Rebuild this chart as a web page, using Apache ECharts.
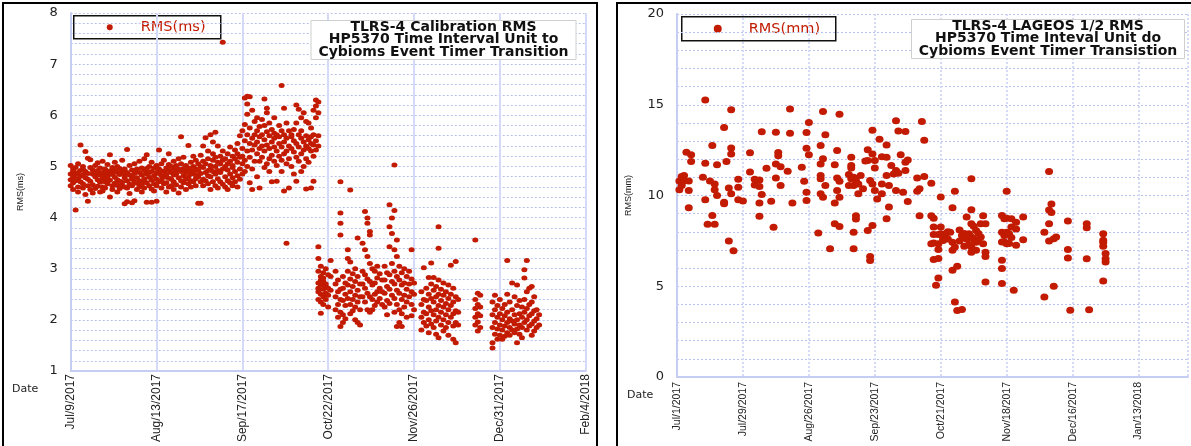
<!DOCTYPE html>
<html><head><meta charset="utf-8">
<script src="https://cdn.jsdelivr.net/npm/echarts@6/dist/echarts.min.js"></script>
<style>html,body{margin:0;padding:0;background:#fff}#c{width:1191px;height:446px}</style>
</head><body><div id="c"></div>
<script>
// ---------- data (each entry: [days since axis start, RMS values...]) ----------
const MONTHS = ['Jan','Feb','Mar','Apr','May','Jun','Jul','Aug','Sep','Oct','Nov','Dec'];
const calibStart = Date.UTC(2017, 6, 9);   // Jul/9/2017
const lageosStart = Date.UTC(2017, 6, 1);  // Jul/1/2017
const calibTickDays = 35, calibMaxDay = 210;
const lageosTickDays = 28, lageosMaxDay = 217;
const calibName = 'RMS(ms)', lageosName = 'RMS(mm)';
const calibTitle = 'TLRS-4 Calibration RMS\nHP5370 Time Interval Unit to\nCybioms Event Timer Transition';
const lageosTitle = 'TLRS-4 LAGEOS 1/2 RMS\nHP5370 Time Inteval Unit do\nCybioms Event Timer Transistion';

const calibJulAug = [
 [0,4.85,4.62,5.02,4.74],[1,4.95,4.55,4.80,4.68,4.90],[2,4.15,4.72,4.98,4.84],[3,4.60,4.88,5.05,4.76,4.50],
 [4,5.42,4.70,4.92,4.81],[5,4.58,4.83,5.00,4.66,4.95],[6,4.45,4.78,5.29,4.90],[7,4.32,4.86,5.16,4.62,4.75],
 [8,4.71,4.98,4.55,5.13],[9,4.64,4.85,4.93,4.48],[10,4.80,4.57,5.02],[11,4.74,4.92,4.61,4.86,5.07],
 [12,4.50,4.83,4.69,4.97],[13,4.88,4.60,4.76,5.10,4.52],[14,4.70,4.95,4.82,4.58],[15,4.66,4.89,5.04,4.77],
 [16,5.23,4.40,4.73,4.91,4.84],[17,4.62,4.86,4.98,4.55],[18,4.79,4.67,5.08,4.92],[19,4.50,4.74,4.88,5.00,4.63],
 [20,4.84,4.57,4.96,4.71],[21,4.69,4.90,4.62,5.12],[22,4.27,4.78,4.95,4.60,4.85],[23,5.33,4.31,4.72,4.88,4.58],
 [24,4.65,4.83,5.02,4.47],[25,4.29,4.75,4.93,4.62,4.80],[26,4.33,4.69,4.86,5.05],[27,4.55,4.78,4.95,4.67,4.90],
 [28,4.72,4.60,4.88,5.10],[29,4.50,4.83,4.97,4.64],[30,4.76,4.92,4.58,5.15,4.70],[31,5.23,4.68,4.85,4.30,4.96],
 [32,4.62,4.79,5.00,4.88],[33,4.30,4.73,4.90,4.56,5.08],[34,4.82,4.66,4.97,4.52]
];
const calibAugSep = [
 [35,4.32,4.75,4.88,5.02,4.62],[36,5.32,4.70,4.86,4.95],[37,4.58,4.82,5.05,4.73,4.91],[38,4.66,4.90,4.79,5.12],
 [39,4.50,4.84,4.97,4.68],[40,5.25,4.77,4.92,4.60,5.04],[41,4.62,4.88,4.75,5.00],[42,4.70,4.96,4.55,4.83,5.10],
 [43,4.85,4.64,5.02,4.92],[44,4.48,4.78,4.95,5.15],[45,5.58,4.72,4.90,5.05,4.60],[46,4.82,4.96,4.68,5.18],
 [47,4.55,4.88,5.02,4.75,4.95],[48,5.41,4.80,4.97,4.66],[49,4.72,4.92,5.08,4.60,4.85],[50,4.88,5.00,4.70,5.20],
 [51,4.62,4.95,4.83,5.12,4.76],[52,4.28,4.80,5.05,4.92],[53,4.28,4.86,5.00,4.70,5.22],[54,5.40,4.75,4.98,5.10,4.62],
 [55,5.56,4.88,5.05,4.72],[56,4.66,4.92,5.15,5.30,4.82],[57,5.62,4.80,5.02,4.95,4.55],[58,5.48,4.70,4.90,5.12,5.25],
 [59,5.67,4.62,5.00,4.85,5.18],[60,5.40,4.58,4.92,5.08,4.76],[61,4.88,5.05,4.70,5.20],[62,7.43,4.95,4.65,5.12,5.30],
 [63,4.80,5.00,5.15,4.60],[64,4.72,4.93,5.25,5.05,4.55],[65,4.85,5.10,5.38,4.68],[66,4.62,4.98,5.20,5.02,4.78],
 [67,4.90,5.15,4.70,5.32],[68,5.08,4.82,5.25,4.60,5.45],[69,4.95,5.18,5.60,4.75]
];
const calibSepOct = [
 [70,5.05,5.35,5.70,4.85,5.20],[71,6.34,5.82,5.50,5.12,4.90],[72,6.37,6.22,6.02,5.62,5.30,5.00],[73,6.36,5.75,5.45,5.18,4.68],
 [74,6.10,5.55,5.32,4.95,4.55],[75,5.88,5.42,5.62,5.10],[76,5.70,5.48,5.25,4.80,5.95],[77,5.58,5.35,5.10,4.58,5.78],
 [78,5.92,5.62,5.40,5.18],[79,6.32,5.80,5.52,5.30,4.98],[80,6.14,6.05,5.68,5.42,5.05],[81,5.85,5.60,5.35,5.15,4.90],
 [82,5.72,5.48,5.22,4.70],[83,5.95,5.55,5.38,5.10,5.65],[84,5.62,5.30,5.02,4.71],[85,5.80,5.45,5.20,5.58],
 [86,6.58,5.70,5.38,5.12,4.90],[87,6.14,5.62,5.48,5.25,4.52],[88,5.85,5.55,5.30,5.05,3.50],[89,5.70,5.40,5.15,4.58],
 [90,5.58,5.35,5.62,5.00],[91,5.50,5.28,5.72,4.85],[92,6.20,5.85,5.45,5.18,4.71],[93,6.12,5.62,5.38,5.10],
 [94,5.95,5.55,5.25,4.90,5.70],[95,6.05,5.48,5.32,5.00],[96,5.88,5.60,5.40,5.15,4.56],[97,5.85,5.52,5.35,5.08],
 [98,5.75,5.58,5.30,5.45,4.58],[99,6.10,5.62,5.42,5.20,4.71],[100,6.30,6.18,5.95,5.50,5.32],
 [101,6.26,6.05,5.60,5.40,3.43,3.20,2.95,2.72,2.55,2.40,2.62]
];
const calibOctNov = [
 [102,3.05,2.85,2.68,2.50,2.35,2.78,2.13],[103,2.92,2.75,2.60,2.45,2.30,2.82],[104,3.00,2.70,2.52,2.40,2.65],
 [105,2.88,2.62,2.48,2.25],[106,3.16,2.85,2.58],[108,2.95,2.70,2.45,2.20],[109,2.78,2.55,2.30,2.05],
 [110,4.70,4.09,3.89,3.66,2.60,2.40,2.15,1.87],[111,2.85,2.62,2.38,2.10,1.95],[112,2.72,2.50,2.28,2.02],
 [113,3.37,3.20,2.95,2.68,2.42],[114,4.54,3.13,2.80,2.55,2.30,2.12],[115,2.90,2.65,2.40,2.18],
 [116,3.00,2.75,2.48,2.25,2.00],[117,3.60,2.85,2.58,2.35,1.95],[118,2.70,2.45,2.20,1.90],
 [119,3.50,2.95,2.70,2.45],[120,4.12,3.37,2.88,2.62,2.35],[121,3.99,3.89,3.24,2.80,2.52,2.20],
 [122,3.73,3.66,3.10,2.75,2.45,2.15],[123,3.00,2.68,2.40,2.20],[124,2.95,2.72,2.50,2.28],[125,3.05,2.82,2.55,2.35],
 [126,2.90,2.62,2.42],[127,2.78,2.55,2.30],[128,3.05,2.78,2.52,2.25],[129,2.92,2.65,2.38,2.10],
 [130,4.25,3.82,3.43,2.88,2.60,2.32],[131,3.99,3.69,3.10,2.75,2.48],[132,5.03,4.14,3.37,2.95,2.70,2.42,2.15],
 [133,3.56,3.24,2.85,2.58,2.30,1.87],[134,3.05,2.78,2.52,2.20,1.95],[135,2.92,2.68,2.40,2.12,1.87],
 [136,3.00,2.72,2.48,2.25],[137,2.85,2.60,2.35,2.05],[138,2.95,2.70,2.45],[139,3.37,2.80,2.55,2.30,2.08],
 [140,2.72,2.50,2.20]
];
const calibNovDec = [
 [143,2.55,2.30,2.05,1.80],[144,3.02,2.40,2.15,1.95],[145,2.62,2.38,2.12,1.88],[146,2.83,2.50,2.25,2.00,1.75],
 [147,3.11,2.70,2.42,2.18,1.92],[148,2.83,2.58,2.35,2.10,1.85],[149,2.65,2.45,2.20,1.98,1.72],
 [150,3.82,3.40,2.78,2.50,2.28,2.05,1.65],[151,2.60,2.38,2.15,1.90],[152,2.72,2.48,2.25,2.00,1.78],
 [153,2.55,2.32,2.10,1.85],[154,2.68,2.42,2.20,1.95,1.70],[155,3.07,2.50,2.28,2.05],[156,2.62,2.35,2.12,1.88,1.62],
 [157,3.14,2.45,2.18,1.95,1.55],[158,2.40,2.15,1.90],[165,3.56,2.40,2.22,2.05,1.90],[166,2.52,2.30,2.12,1.96,1.78],
 [167,2.48,2.25,2.08,1.85]
];
const calibDecJan = [
 [172,2.35,2.10,1.85,1.55,1.45],[173,2.48,2.20,1.95,1.72],[174,2.28,2.05,1.82,1.62],[175,2.40,2.12,1.90,1.70],
 [176,2.22,2.00,1.80,1.62],[177,2.30,2.08,1.88,1.68],[178,3.16,2.50,2.15,1.95,1.75],[179,2.35,2.02,1.85,1.70],
 [180,2.72,2.20,1.98,1.80],[181,2.45,2.10,1.92,1.75],[182,2.68,2.28,2.00,1.82,1.55],[183,2.38,2.12,1.90,1.72],
 [184,2.25,2.05,1.85,1.65],[185,2.98,2.82,2.40,2.15,1.95],[186,3.16,2.55,2.22,2.00,1.80],[187,2.62,2.30,2.08,1.88],
 [188,2.65,2.35,2.12,1.92,1.70],[189,2.45,2.18,1.98,1.78],[190,2.20,2.02,1.85],[191,2.10,1.90]
];

const lageosJulAug = [
 [1,10.8,10.31],[2,10.55,11.05],[3,11.1,10.8],[4,12.38],[5,10.28,9.33,10.8],[6,12.25,11.88],[11,11.0],
 [12,15.26,11.77,9.76],[13,8.41],[14,10.8],[15,12.75,8.9],[16,10.64,10.31,8.41],[17,11.7,10.0],
 [20,13.75,9.63,9.54],[21,11.88],[22,10.42,7.49],[23,14.72,12.62,12.29,10.09],[24,6.96],[26,10.9,10.46,9.77],
 [28,9.7],[31,12.35,11.3],[33,10.9,10.58],[35,10.85,10.49,9.58,8.85],[36,13.51,10.05],[38,11.5],[40,9.68],
 [41,8.25],[42,13.48,11.73,10.97],[43,12.37,12.19],[44,11.59,10.55],[47,11.33],[48,14.76,13.43],[49,9.58],
 [53,11.55],[54,10.79]
];
const lageosAugSep = [
 [55,13.47,12.61,10.18,9.72],[56,14.02,12.25],[60,7.93],[61,12.75,11.74,11.1,10.92,10.09],[62,14.63,12.02,9.91],
 [63,13.35,10.55],[65,7.06],[67,11.7,9.58,8.44],[68,12.48,10.97,10.28],[69,14.48,10.79,9.91,8.29],
 [73,11.16,10.55],[74,12.11,11.65,11.52,10.92],[75,11.0,10.55,7.98,7.06],[76,10.83,8.88,8.7],[77,10.64,10.09],
 [78,11.1],[79,10.37],[80,11.9],[81,12.52,11.93,8.07]
];
const lageosSepOct = [
 [82,10.83,6.64,6.42],[83,13.6,12.29,10.64,8.35],[84,11.93,11.52,10.28],[85,9.81],[86,13.1],[87,12.14,10.64,10.09],
 [89,12.78,12.11,11.1,8.72],[90,10.55,9.36],[91,11.65],[92,11.19],[93,14.12,11.38,10.28],[94,13.56,11.22],
 [95,12.25],[96,10.18],[97,13.53,11.83,11.38],[98,11.96,9.67],[102,10.97,10.24],[103,10.37,8.88],[104,14.08],
 [105,13.05,11.04]
];
const lageosOctNov = [
 [108,10.68,8.88,7.34],[109,8.75,8.26,7.85,7.38,6.48],[110,5.06],[111,7.85,7.34,7.03,6.53,5.46],[112,9.92,8.26,7.89],
 [113,7.61,7.52],[114,7.89],[115,7.6,8.0],[116,7.98],[117,9.32,7.43,6.98,5.88],[118,10.24,7.16,4.13],[119,6.1,3.67],
 [120,7.5,8.1],[121,7.8,3.72],[122,7.9,7.2],[123,8.81,7.61],[124,7.89,7.3],[125,10.92,9.21,8.44,7.71,7.16,6.88],
 [126,7.6,8.3],[127,8.07,7.43,6.98],[128,7.5,7.9],[129,8.44,7.71],[130,8.88,7.34],[131,8.44,6.88,6.64,5.24]
];
const lageosNovDec = [
 [138,8.9,7.98,7.44,6.43,5.98,5.15],[139,8.72,7.8,7.44],[140,10.24,8.75,7.98,7.34],[141,7.89,7.35],
 [142,8.72,8.26,7.69],[143,4.78],[144,8.53,8.16,7.26],[147,8.81,7.56],[156,7.98,4.41],[158,11.32,9.2,8.44,7.49],
 [159,9.53,9.07],[160,7.62,5.0],[161,7.71],[166,8.6,7.02,6.56],[167,3.68],[174,8.44,8.22,6.52],[175,3.71],
 [181,7.89,7.53,7.43,7.2,5.29],[182,6.8,6.52,6.34]
];

// ---------- build ----------
function toPoints(groups) {
  const out = [];
  groups.forEach(g => { for (let i = 1; i < g.length; i++) out.push([g[0], g[i]]); });
  return out;
}
const calibPoints = toPoints([].concat(calibJulAug, calibAugSep, calibSepOct, calibOctNov, calibNovDec, calibDecJan));
const lageosPoints = toPoints([].concat(lageosJulAug, lageosAugSep, lageosSepOct, lageosOctNov, lageosNovDec));

function dateLabel(start, step) {
  return function (v) {
    if (Math.abs(v % step) > 1e-6) return '';
    const d = new Date(start + v * 86400000);
    return MONTHS[d.getUTCMonth()] + '/' + d.getUTCDate() + '/' + d.getUTCFullYear();
  };
}

const RED = '#c21b02';
const GRIDH = '#b9c1ec';
const GRIDV = '#d4daf8';
const AXIS = '#c6cdf3';

function yAxisCfg(idx, min, max, interval, name, gap) {
  return {
    type: 'value', gridIndex: idx, min: min, max: max, interval: interval,
    name: name, nameLocation: 'middle', nameGap: gap, nameRotate: 90,
    nameTextStyle: { fontSize: 9, color: '#222', fontFamily: 'Liberation Sans' },
    axisLine: { show: true, lineStyle: { color: AXIS, width: 2 } },
    axisTick: { show: false },
    axisLabel: { fontSize: 13, color: '#222', fontFamily: 'DejaVu Sans', margin: 13 },
    splitLine: { show: true, lineStyle: { color: GRIDH, width: 1, type: [2, 2] } },
    minorTick: { show: false, splitNumber: 5 },
    minorSplitLine: { show: true, lineStyle: { color: GRIDH, width: 1, type: [2, 2] } }
  };
}
function xAxisCfg(idx, max, interval, start, fs, margin, vtype) {
  return {
    type: 'value', gridIndex: idx, min: 0, max: max, interval: interval,
    axisLine: { show: true, lineStyle: { color: AXIS, width: 2 } },
    axisTick: { show: false },
    axisLabel: { rotate: 90, fontSize: fs, color: '#222', fontFamily: 'Liberation Sans', margin: margin,
                 showMinLabel: true, showMaxLabel: true, formatter: dateLabel(start, interval) },
    splitLine: { show: true, lineStyle: { color: GRIDV, width: 2, type: vtype } }
  };
}
function legendBox(x, y, w, h, r, text) {
  return {
    type: 'group', left: x, top: y, z: 50,
    children: [
      { type: 'rect', shape: { x: 0, y: 0, width: w, height: h }, style: { fill: '#fff', stroke: '#111', lineWidth: 1.5 } },
      { type: 'circle', shape: { cx: 36, cy: h / 2, r: r }, style: { fill: RED } },
      { type: 'text', x: 67, y: h / 2, style: { text: text, fill: RED, fontSize: 14.5, fontFamily: 'DejaVu Sans', verticalAlign: 'middle' } }
    ]
  };
}

const chart = echarts.init(document.getElementById('c'), null, { renderer: 'canvas' });
chart.setOption({
  animation: false,
  backgroundColor: '#fff',
  grid: [
    { left: 70.7, top: 13, width: 515, height: 358 },
    { left: 677, top: 14, width: 511, height: 363 }
  ],
  xAxis: [
    xAxisCfg(0, calibMaxDay, calibTickDays, calibStart, 12, 3, 'solid'),
    xAxisCfg(1, lageosMaxDay, lageosTickDays, lageosStart, 10.5, 5, [2, 2])
  ],
  yAxis: [
    yAxisCfg(0, 1, 8, 1, calibName, 46),
    yAxisCfg(1, 0, 20, 5, lageosName, 44)
  ],
  title: [
    { text: calibTitle, left: 435.5, top: 21, textAlign: 'center', padding: [0, 8, 0, 8],
      backgroundColor: '#fff', borderColor: '#cfcfcf', borderWidth: 1,
      textStyle: { fontFamily: 'DejaVu Sans', fontWeight: 'bold', fontSize: 14, lineHeight: 12.5, color: '#111' } },
    { text: lageosTitle, left: 1040, top: 20, textAlign: 'center', padding: [0, 8, 0, 8],
      backgroundColor: '#fff', borderColor: '#cfcfcf', borderWidth: 1,
      textStyle: { fontFamily: 'DejaVu Sans', fontWeight: 'bold', fontSize: 14, lineHeight: 12.5, color: '#111' } }
  ],
  graphic: [
    { type: 'rect', shape: { x: 3, y: 3, width: 594, height: 460 }, style: { fill: 'none', stroke: '#000', lineWidth: 2 }, z: 100 },
    { type: 'rect', shape: { x: 617, y: 3, width: 600, height: 460 }, style: { fill: 'none', stroke: '#000', lineWidth: 2 }, z: 100 },
    { type: 'text', left: 12, top: 384, style: { text: 'Date', fontSize: 11, fill: '#222', fontFamily: 'DejaVu Sans' } },
    { type: 'text', left: 627, top: 390, style: { text: 'Date', fontSize: 11, fill: '#222', fontFamily: 'DejaVu Sans' } },
    legendBox(73, 15, 147, 23, 3, calibName),
    legendBox(681, 16, 154, 24, 4, lageosName)
  ],
  series: [
    { name: calibName, type: 'scatter', xAxisIndex: 0, yAxisIndex: 0, data: calibPoints,
      symbol: 'circle', symbolSize: [6, 5], itemStyle: { color: RED, opacity: 1 } },
    { name: lageosName, type: 'scatter', xAxisIndex: 1, yAxisIndex: 1, data: lageosPoints,
      symbol: 'circle', symbolSize: [8, 7], itemStyle: { color: RED, opacity: 1 } }
  ]
});
</script>
</body></html>
